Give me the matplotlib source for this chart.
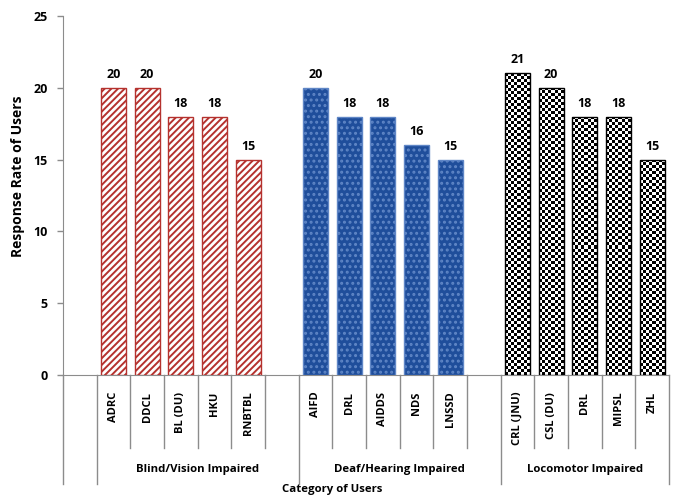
import numpy as np
import matplotlib
matplotlib.use("Agg")
import matplotlib.pyplot as plt
import matplotlib.transforms as mtransforms

plt.rcParams['font.family'] = ['Open Sans', 'DejaVu Sans']
plt.rcParams['font.weight'] = 'bold'
plt.rcParams['hatch.linewidth'] = 1.4

# data
groups = ['Blind/Vision Impaired', 'Deaf/Hearing Impaired', 'Locomotor Impaired']
blind_labels = ['ADRC', 'DDCL', 'BL (DU)', 'HKU', 'RNBTBL']
blind_values = [20, 20, 18, 18, 15]
deaf_labels = ['AIFD', 'DRL', 'AIDDS', 'NDS', 'LNSSD']
deaf_values = [20, 18, 18, 16, 15]
loco_labels = ['CRL (JNU)', 'CSL (DU)', 'DRL', 'MIPSL', 'ZHL']
loco_values = [21, 20, 18, 18, 15]

# slot layout (Excel multi-level axis: empty slot first, one blank slot after each group)
group_start = [1, 7, 13]
group_span = [(0.5, 6.5), (6.5, 12.5), (12.5, 17.5)]

fig = plt.figure(figsize=(6.77, 4.96), dpi=100)
ax = fig.add_axes([63 / 677, 121 / 496, 606 / 677, 359 / 496])
ax.set_xlim(-0.5, 17.5)
ax.set_ylim(0, 25)

bw = 0.74
x_blind = group_start[0] + np.arange(len(blind_values))
x_deaf = group_start[1] + np.arange(len(deaf_values))
x_loco = group_start[2] + np.arange(len(loco_values))

b1 = ax.bar(x_blind, blind_values, bw, facecolor='white', edgecolor='#B5322E',
            hatch='/////', linewidth=1.0, zorder=3)
b2 = ax.bar(x_deaf, deaf_values, bw, facecolor='#1F4E9B', edgecolor='#5F86C6',
            hatch='...', linewidth=1.0, zorder=3)
b3 = ax.bar(x_loco, loco_values, bw, facecolor='none', edgecolor='black',
            linewidth=1.0, zorder=4)

# checkerboard fill for the locomotor bars
for bar in b3:
    x0, w, h = bar.get_x(), bar.get_width(), bar.get_height()
    p0 = ax.transData.transform((x0, 0))
    p1 = ax.transData.transform((x0 + w, h))
    nx = max(1, int(round((p1[0] - p0[0]) / 3.0)))
    ny = max(1, int(round((p1[1] - p0[1]) / 3.0)))
    checker = np.add.outer(np.arange(ny), np.arange(nx)) % 2
    im = ax.imshow(checker, cmap='gray', extent=(x0, x0 + w, 0, h), aspect='auto',
                   interpolation='nearest', zorder=3)
    im.set_clip_path(bar)

ax.set_xlim(-0.5, 17.5)
ax.set_ylim(0, 25)

for bars in (b1, b2, b3):
    ax.bar_label(bars, padding=5, fontsize=9, fontweight='bold')

# axes styling
for s in ('top', 'right'):
    ax.spines[s].set_visible(False)
ax.spines['left'].set_color('#8C8C8C')
ax.spines['bottom'].set_color('#8C8C8C')
ax.set_yticks(np.arange(0, 26, 5))
ax.tick_params(axis='y', length=4, width=1, color='#8C8C8C', pad=7, labelsize=9)

ax.set_xticks(np.concatenate([x_blind, x_deaf, x_loco]))
ax.set_xticklabels(blind_labels + deaf_labels + loco_labels, rotation=90,
                   va='top', ha='center', fontsize=8, fontweight='bold')
ax.tick_params(axis='x', length=0, pad=12)

# multi-level category dividers
trans = mtransforms.blended_transform_factory(ax.transData, ax.transAxes)
short_y, long_y = -0.203, -0.304
for xs in group_start:
    n = 5 if xs != group_start[-1] else 4
    for k in range(n):
        ax.plot([xs + 0.5 + k] * 2, [0, short_y], transform=trans, color='#8C8C8C',
                lw=1, clip_on=False)
for xl in [-0.5, 0.5, 6.5, 12.5, 17.5]:
    ax.plot([xl, xl], [0, long_y], transform=trans, color='#8C8C8C', lw=1, clip_on=False)

for name, (a, b) in zip(groups, group_span):
    ax.text((a + b) / 2, -0.262, name, transform=trans, ha='center', va='center',
            fontsize=8.2, fontweight='bold')

ax.text(7.5, -0.305, 'Category of Users', transform=trans, ha='center', va='top',
        fontsize=8.2, fontweight='bold')
fig.text(18 / 677, 1 - 176 / 496, 'Response Rate of Users', rotation=90,
         ha='center', va='center', fontsize=10, fontweight='bold')

fig.savefig('out.png', dpi=100)
